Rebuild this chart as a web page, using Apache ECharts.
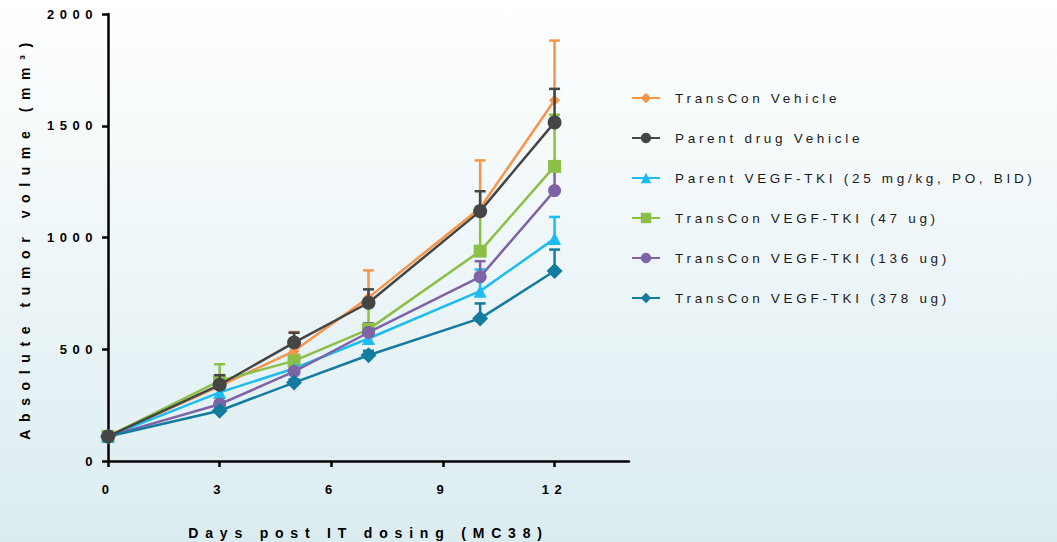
<!DOCTYPE html>
<html>
<head>
<meta charset="utf-8">
<script src="https://cdn.jsdelivr.net/npm/echarts@6/dist/echarts.min.js"></script>
<style>
html,body{margin:0;padding:0;background:#fff;}
#chart{width:1057px;height:542px;}
</style>
</head>
<body>
<div id="chart"></div>
<script>
// ---- data ----
const days = [0, 3, 5, 7, 10, 12];
const seriesNames = [
  'TransCon Vehicle',
  'Parent drug Vehicle',
  'Parent VEGF-TKI (25 mg/kg, PO, BID)',
  'TransCon VEGF-TKI (47 ug)',
  'TransCon VEGF-TKI (136 ug)',
  'TransCon VEGF-TKI (378 ug)'
];
const transconVehicle     = [110, 335, 492, 731, 1132, 1614];
const parentVehicle       = [110, 341, 530, 708, 1118, 1515];
const parentTki           = [110, 307, 414, 548, 760, 995];
const transcon47          = [110, 358, 448, 589, 939, 1318];
const transcon136         = [110, 254, 400, 575, 824, 1210];
const transcon378         = [110, 225, 351, 473, 638, 850];
// upper error (SEM)
const transconVehicleErr  = [4, 46, 85, 122, 213, 267];
const parentVehicleErr    = [4, 43, 44, 60, 89, 150];
const parentTkiErr        = [4, 18, 26, 59, 97, 97];
const transcon47Err       = [4, 75, 28, 110, 170, 231];
const transcon136Err      = [4, 14, 18, 41, 70, 131];
const transcon378Err      = [4, 10, 14, 20, 67, 96];
const xTicks = [0, 3, 6, 9, 12];
const yTicks = [0, 500, 1000, 1500, 2000];

const means = [transconVehicle, parentVehicle, parentTki, transcon47, transcon136, transcon378];
const errs  = [transconVehicleErr, parentVehicleErr, parentTkiErr, transcon47Err, transcon136Err, transcon378Err];

// ---- styles ----
const colors  = ['#f7954a', '#454545', '#1dbdf2', '#8cbf45', '#7e63a6', '#137ba0'];
const symbols = ['diamond', 'circle', 'triangle', 'rect', 'circle', 'diamond'];
const sizes   = [11, 14, 13, 13, 13, 16];
const zs      = [3, 6, 4, 3, 4, 5];
const FONT = 'Liberation Sans, Arial, sans-serif';

const chart = echarts.init(document.getElementById('chart'), null, {renderer: 'svg'});

const series = [];
means.forEach((m, i) => {
  series.push({
    name: seriesNames[i],
    type: 'line',
    data: days.map((d, j) => [d, m[j]]),
    symbol: symbols[i],
    symbolSize: sizes[i],
    showAllSymbol: true,
    lineStyle: {color: colors[i], width: 2.5},
    itemStyle: {color: colors[i], borderWidth: 0},
    z: zs[i],
    emphasis: {disabled: true}
  });
});
means.forEach((m, i) => {
  series.push({
    name: 'err' + i,
    type: 'custom',
    data: days.map((d, j) => [d, m[j], m[j] + errs[i][j]]),
    z: zs[i] - 1,
    silent: true,
    renderItem: function (params, api) {
      const p0 = api.coord([api.value(0), api.value(1)]);
      const p1 = api.coord([api.value(0), api.value(2)]);
      const hw = 5.5;
      const st = {stroke: colors[i], lineWidth: 2.5, fill: null};
      return {
        type: 'group',
        children: [
          {type: 'line', shape: {x1: p0[0], y1: p0[1], x2: p1[0], y2: p1[1]}, style: st},
          {type: 'line', shape: {x1: p1[0] - hw, y1: p1[1], x2: p1[0] + hw, y2: p1[1]}, style: st}
        ]
      };
    }
  });
});

const option = {
  animation: false,
  backgroundColor: {
    type: 'linear', x: 0, y: 0, x2: 0, y2: 1,
    colorStops: [{offset: 0, color: '#ffffff'}, {offset: 1, color: '#dbecf1'}]
  },
  textStyle: {fontFamily: FONT},
  grid: {left: 108, top: 14, right: 428, bottom: 81, containLabel: false, outerBoundsMode: 'none'},
  legend: {
    data: seriesNames,
    orient: 'vertical',
    left: 631,
    top: 91,
    padding: 0,
    itemWidth: 28,
    itemHeight: 13,
    itemGap: 26,
    textStyle: {fontFamily: FONT, fontSize: 13.5, color: '#1a1a1a', padding: [0, 0, 0, 10]},
    selectedMode: false
  },
  xAxis: {
    type: 'value',
    min: 0, max: 14, interval: 3,
    name: 'Days post IT dosing (MC38)',
    nameLocation: 'middle',
    nameGap: 65,
    nameTextStyle: {fontFamily: FONT, fontSize: 14, fontWeight: 'bold', color: '#000'},
    axisLine: {show: true, lineStyle: {color: '#000', width: 2.5}},
    axisTick: {show: true, length: 6, lineStyle: {color: '#000', width: 2.5}, customValues: xTicks},
    axisLabel: {fontFamily: FONT, fontSize: 13, fontWeight: 'bold', color: '#000', margin: 22, customValues: xTicks,
      formatter: v => String(v)},
    splitLine: {show: false}
  },
  yAxis: {
    type: 'value',
    min: 0, max: 2000, interval: 500,
    name: 'Absolute tumor volume (mm³)',
    nameLocation: 'middle',
    nameRotate: 90,
    nameGap: 76,
    nameTextStyle: {fontFamily: FONT, fontSize: 14, fontWeight: 'bold', color: '#000'},
    axisLine: {show: true, lineStyle: {color: '#000', width: 2.5}},
    axisTick: {show: true, length: 6, lineStyle: {color: '#000', width: 2.5}, customValues: yTicks},
    axisLabel: {fontFamily: FONT, fontSize: 13, fontWeight: 'bold', color: '#000', margin: 10, customValues: yTicks,
      formatter: v => String(v)},
    splitLine: {show: false}
  },
  series: series
};
chart.setOption(option);

// letter spacing like the original export
function spaceText() {
  const texts = document.querySelectorAll('#chart svg text');
  texts.forEach(t => {
    const s = t.textContent;
    let sp = 5.5;
    if (seriesNames.indexOf(s) >= 0) sp = 3.7;
    else if (s === option.xAxis.name) sp = 6.8;
    else if (s === option.yAxis.name) sp = 7.6;
    t.setAttribute('letter-spacing', sp);
  });
}
chart.on('finished', spaceText);
spaceText();
setTimeout(spaceText, 50);
</script>
</body>
</html>
